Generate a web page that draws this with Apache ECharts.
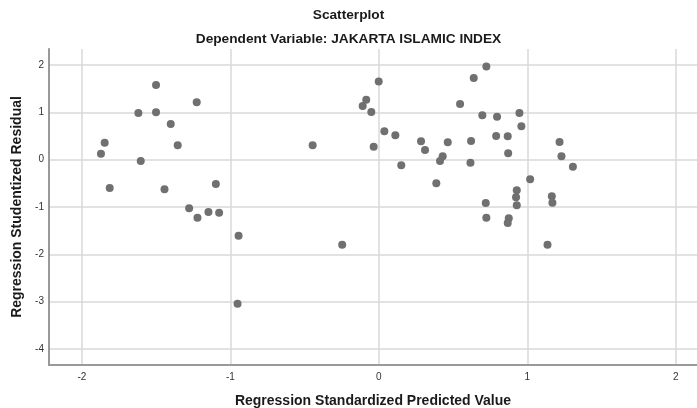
<!DOCTYPE html>
<html>
<head>
<meta charset="utf-8">
<script src="https://cdn.jsdelivr.net/npm/echarts@6/dist/echarts.min.js"></script>
<style>
  html, body { margin: 0; padding: 0; background: #fff; }
  #scatter { width: 697px; height: 408px; }
</style>
</head>
<body>
<div id="scatter"></div>
<script>
// regression standardized predicted value (x) / studentized residual (y)
const predicted = [
  -1.501, -1.227, -1.620, -1.501, -1.402, -1.847, -1.355, -1.872, -1.604, -1.813,
  -1.444, -1.098, -1.278, -1.222, -1.148, -1.076, -0.945, -0.952, -0.446, -0.247,
  -0.001, -0.085, -0.109, -0.051, 0.037, 0.111, -0.035, 0.151, 0.284, 0.311,
  0.464, 0.430, 0.412, 0.387, 0.547, 0.639, 0.724, 0.697, 0.796, 0.621,
  0.617, 0.790, 0.868, 0.871, 0.720, 0.724, 0.875, 0.868, 0.929, 0.924,
  0.929, 0.947, 0.960, 1.217, 1.230, 1.307, 1.019, 1.165, 1.169, 1.136
];
const residual = [
  1.579, 1.213, 0.987, 1.002, 0.755, 0.360, 0.304, 0.127, -0.027, -0.598,
  -0.626, -0.514, -1.028, -1.226, -1.106, -1.120, -1.607, -3.044, 0.304, -1.797,
  1.649, 1.268, 1.135, 1.008, 0.600, 0.516, 0.275, -0.118, 0.389, 0.205,
  0.368, 0.072, -0.027, -0.499, 1.178, 1.727, 1.966, 0.939, 0.909, 0.395,
  -0.063, 0.501, 0.495, 0.135, -0.915, -1.226, -1.239, -1.338, -0.647, -0.795,
  -0.964, 0.987, 0.706, 0.374, 0.072, -0.148, -0.414, -0.774, -0.908, -1.797
];
const xRange = [-2.222, 2.143];
const yRange = [-4.338, 2.338];

const font = "'Liberation Sans', Arial, sans-serif";
const points = predicted.map((v, i) => [v, residual[i]]);

// only integer ticks get a label
const intLabel = (v) => (Math.abs(v - Math.round(v)) < 1e-6 ? String(Math.round(v)) : "");

const chart = echarts.init(document.getElementById("scatter"));
chart.setOption({
  animation: false,
  textStyle: { fontFamily: font },
  title: [
    {
      text: "Scatterplot",
      left: "center",
      top: 3,
      textStyle: { fontSize: 13.7, fontWeight: "bold", color: "#1a1a1a", fontFamily: font }
    },
    {
      text: "Dependent Variable: JAKARTA ISLAMIC INDEX",
      left: "center",
      top: 27,
      textStyle: { fontSize: 13.7, fontWeight: "bold", color: "#1a1a1a", fontFamily: font }
    }
  ],
  grid: { left: 49, right: 0, top: 49, bottom: 43, outerBoundsMode: "none" },
  xAxis: {
    type: "value",
    min: xRange[0],
    max: xRange[1],
    minInterval: 1,
    maxInterval: 1,
    name: "Regression Standardized Predicted Value",
    nameLocation: "middle",
    nameGap: 29,
    nameTextStyle: { fontSize: 14, fontWeight: "bold", color: "#1a1a1a", fontFamily: font },
    axisLine: { show: true, onZero: false, lineStyle: { color: "#999", width: 2 } },
    axisTick: { show: false },
    axisLabel: { formatter: intLabel, fontSize: 10, color: "#333", margin: 7 },
    splitLine: { show: true, showMinLine: false, showMaxLine: false, lineStyle: { color: "#d9d9d9", width: 1.5 } }
  },
  yAxis: {
    type: "value",
    min: yRange[0],
    max: yRange[1],
    minInterval: 1,
    maxInterval: 1,
    name: "Regression Studentized Residual",
    nameLocation: "middle",
    nameGap: 23,
    nameTextStyle: { fontSize: 14, fontWeight: "bold", color: "#1a1a1a", fontFamily: font },
    axisLine: { show: true, onZero: false, lineStyle: { color: "#999", width: 2 } },
    axisTick: { show: false },
    axisLabel: { formatter: intLabel, fontSize: 10, color: "#333", margin: 5 },
    splitLine: { show: true, showMinLine: false, showMaxLine: false, lineStyle: { color: "#d9d9d9", width: 1.5 } }
  },
  series: [
    {
      type: "scatter",
      data: points,
      symbolSize: 8,
      itemStyle: { color: "#707070", opacity: 1 }
    }
  ]
});
</script>
</body>
</html>
